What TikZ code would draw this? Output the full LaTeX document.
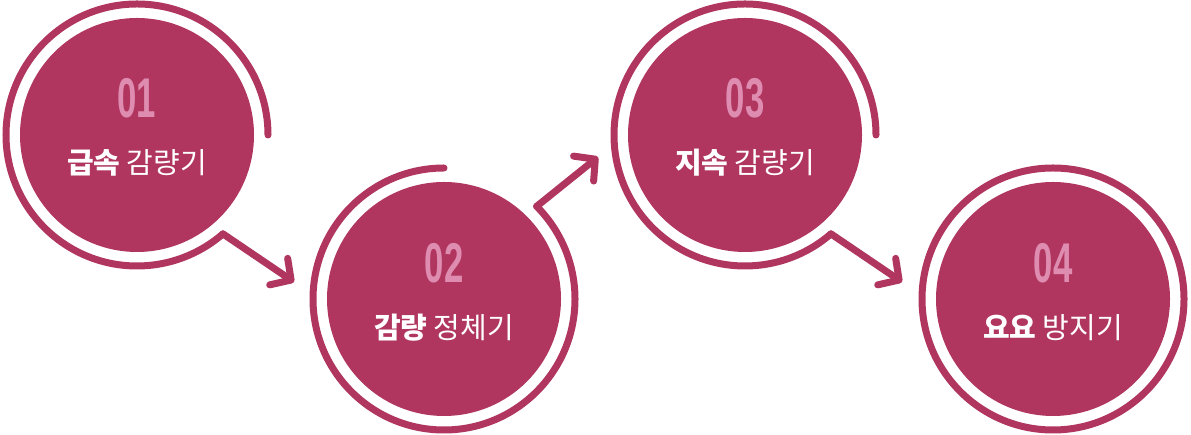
\documentclass[tikz,border=0pt]{standalone}
\usepackage{fontspec}
\newfontfamily\krfont{Noto Sans CJK KR}
\newfontfamily\numfont{Liberation Sans}
\usetikzlibrary{arrows.meta}
\definecolor{stepred}{HTML}{B0365F}
\definecolor{steppink}{HTML}{DE8DB0}
\tikzset{
  disc/.style={circle,fill=stepred,minimum size=234pt,inner sep=0pt},
  ring/.style={draw=stepred,line width=7pt,line cap=round},
  flow/.style={ring,-{Straight Barb[length=15pt,width=32pt,line width=7pt,round]}},
  stepnum/.style={text=steppink,font=\numfont\bfseries\fontsize{56}{56}\selectfont,xscale=0.62},
  steplabel/.style={text=white,font=\krfont\fontsize{29}{32}\selectfont}
}
\begin{document}
\begin{tikzpicture}[x=1pt,y=1pt]
\useasboundingbox (0,0) rectangle (1191,435);
% step circles
\node[disc] (s1) at (137,300) {};
\node[disc] (s2) at (444,136) {};
\node[disc] (s3) at (745,300) {};
\node[disc] (s4) at (1053,136) {};
% rings
\draw[ring] (s1.center) ++(0:131) arc (0:311:131) coordinate (o1);
\draw[ring] (s2.center) ++(90:131) arc (90:405:131) coordinate (o2);
\draw[ring] (s3.center) ++(0:131) arc (0:311:131) coordinate (o3);
\draw[ring] (s4.center) circle (131);
% arrows
\coordinate (t1) at (294,153);
\coordinate (t2) at (598,278);
\coordinate (t3) at (902,153);
\draw[flow] (o1) -- (t1);
\draw[flow] (o2) -- (t2);
\draw[flow] (o3) -- (t3);
% texts
\node[stepnum] (n1) at (137,337) {01};
\node[stepnum] (n2) at (444,172) {02};
\node[stepnum] (n3) at (745,337) {03};
\node[stepnum] (n4) at (1053,172) {04};
\node[steplabel] (l1) at (137,272) {\textbf{급속} 감량기};
\node[steplabel] (l2) at (444,107) {\textbf{감량} 정체기};
\node[steplabel] (l3) at (745,272) {\textbf{지속} 감량기};
\node[steplabel] (l4) at (1053,107) {\textbf{요요} 방지기};
\end{tikzpicture}
\end{document}
